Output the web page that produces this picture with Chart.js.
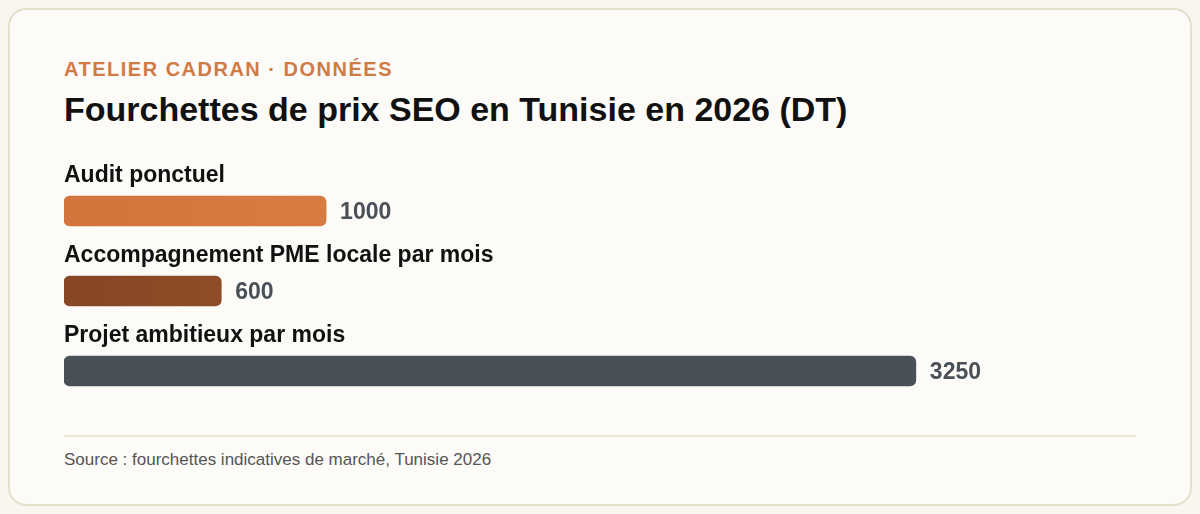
<!DOCTYPE html>
<html lang="fr">
<head>
<meta charset="utf-8">
<script src="https://cdn.jsdelivr.net/npm/chart.js@4/dist/chart.umd.min.js"></script>
<style>
  html, body { margin: 0; padding: 0; }
  body { width: 1200px; height: 514px; background: #f8f6ef; font-family: "Liberation Sans", Arial, sans-serif; position: relative; overflow: hidden; }
  .card { position: absolute; left: 8px; top: 8px; width: 1180px; height: 494px; border: 2px solid #e5e0cc; border-radius: 18px; background: #fcfbf7; }
  .kicker { position: absolute; left: 64px; top: 58px; font-size: 20px; line-height: 22px; font-weight: bold; letter-spacing: 1.5px; color: #d07a45; }
  .title { position: absolute; left: 64px; top: 89px; font-size: 34px; line-height: 40px; font-weight: bold; color: #111; }
  .rule { position: absolute; left: 64px; top: 435px; width: 1072px; height: 2px; background: #ebe6d6; }
  .source { position: absolute; left: 64px; top: 450px; font-size: 17px; line-height: 20px; color: #555; }
  #chart { position: absolute; left: 64px; top: 150px; }
</style>
</head>
<body>
<div class="card"></div>
<div class="kicker">ATELIER CADRAN · DONNÉES</div>
<div class="title">Fourchettes de prix SEO en Tunisie en 2026 (DT)</div>
<canvas id="chart" width="1072" height="270"></canvas>
<div class="rule"></div>
<div class="source">Source : fourchettes indicatives de marché, Tunisie 2026</div>
<script>
const categories = ['Audit ponctuel', 'Accompagnement PME locale par mois', 'Projet ambitieux par mois'];
const prix = [1000, 600, 3250];
const couleurs = [['#d2743c', '#d67c42'], ['#874624', '#8e4c28'], ['#4a5057', '#4a5057']];

const ctx = document.getElementById('chart').getContext('2d');

// léger dégradé horizontal sur chaque barre
function remplissage(context) {
  const c = couleurs[context.dataIndex];
  const chart = context.chart;
  const x = chart.scales && chart.scales.x;
  if (!chart.chartArea || !x) return c[0];
  const x0 = x.getPixelForValue(0);
  const x1 = x.getPixelForValue(prix[context.dataIndex]);
  if (!isFinite(x0) || !isFinite(x1) || x1 <= x0) return c[0];
  const g = chart.ctx.createLinearGradient(x0, 0, x1, 0);
  g.addColorStop(0, c[0]);
  g.addColorStop(1, c[1]);
  return g;
}

const etiquettes = {
  id: 'etiquettes',
  afterDatasetsDraw(chart) {
    const c = chart.ctx;
    const meta = chart.getDatasetMeta(0);
    c.save();
    c.textBaseline = 'middle';
    c.textAlign = 'left';
    c.font = 'bold 23px "Liberation Sans", Arial, sans-serif';
    meta.data.forEach((bar, i) => {
      c.fillStyle = '#111';
      c.fillText(categories[i], chart.chartArea.left, bar.y - 35);
      c.fillStyle = '#4a5058';
      c.fillText(String(prix[i]), bar.x + 14, bar.y + 2);
    });
    c.restore();
  }
};

new Chart(ctx, {
  type: 'bar',
  data: {
    labels: categories,
    datasets: [{
      data: prix,
      backgroundColor: remplissage,
      borderRadius: 6,
      borderSkipped: false,
      barThickness: 30
    }]
  },
  options: {
    indexAxis: 'y',
    responsive: false,
    animation: false,
    layout: { padding: { top: 21, bottom: 9, left: 0, right: 0 } },
    plugins: { legend: { display: false }, tooltip: { enabled: false } },
    scales: {
      x: { display: false, min: 0, max: 4090 },
      y: { display: false }
    }
  },
  plugins: [etiquettes]
});
</script>
</body>
</html>
